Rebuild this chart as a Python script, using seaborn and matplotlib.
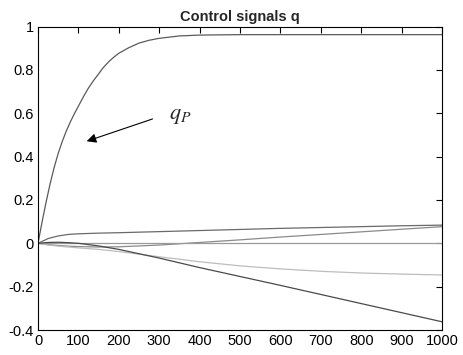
import numpy as np
import pandas as pd
import matplotlib
matplotlib.use("Agg")
import matplotlib.pyplot as plt
import seaborn as sns

# Time samples and control signal values
t_p = [0, 10, 20, 30, 40, 50, 60, 70, 80, 90, 100, 112, 125, 137, 150, 162, 175, 187, 200,
       225, 250, 275, 300, 350, 400, 500, 600, 800, 1000]
q_p = [0, 0.098, 0.19, 0.275, 0.35, 0.415, 0.47, 0.518, 0.56, 0.598, 0.633, 0.675, 0.717,
       0.75, 0.782, 0.812, 0.838, 0.858, 0.877, 0.903, 0.924, 0.937, 0.946, 0.957, 0.961,
       0.963, 0.963, 0.963, 0.963]

t = [0, 25, 50, 75, 100, 150, 200, 300, 400, 500, 600, 700, 800, 900, 1000]
q_a = [0, 0.022, 0.034, 0.041, 0.044, 0.047, 0.049, 0.054, 0.059, 0.064, 0.069, 0.073, 0.077, 0.081, 0.084]
q_b = [0, -0.006, -0.010, -0.013, -0.015, -0.017, -0.016, -0.008, 0.004, 0.016, 0.029, 0.041, 0.053, 0.065, 0.077]
q_c = [0] * len(t)
q_d = [0, -0.008, -0.013, -0.017, -0.021, -0.028, -0.038, -0.062, -0.085, -0.104, -0.118, -0.129, -0.137, -0.142, -0.146]
q_e = [0, 0.004, 0.005, 0.003, 0.0, -0.012, -0.028, -0.068, -0.112, -0.153, -0.194, -0.236, -0.278, -0.320, -0.362]

x_ticks = [0, 100, 200, 300, 400, 500, 600, 700, 800, 900, 1000]
y_ticks = [-0.4, -0.2, 0, 0.2, 0.4, 0.6, 0.8, 1]
y_labels = ["-0.4", "-0.2", "0", "0.2", "0.4", "0.6", "0.8", "1"]

sns.set_theme(style="white")
plt.rcParams["font.family"] = ["Liberation Sans", "DejaVu Sans"]
plt.rcParams["mathtext.fontset"] = "stix"

fig = plt.figure(figsize=(4.64, 3.55), dpi=100)
ax = fig.add_axes([0.0819, 0.0704, 0.8707, 0.8546])

df = pd.DataFrame({"t": t, "a": q_a, "b": q_b, "c": q_c, "d": q_d, "e": q_e})
dfp = pd.DataFrame({"t": t_p, "p": q_p})

sns.lineplot(data=dfp, x="t", y="p", ax=ax, color="#5a5a5a", linewidth=0.9)
styles = [("a", "#6a6a6a"), ("b", "#8a8a8a"), ("c", "#9a9a9a"), ("d", "#bdbdbd"), ("e", "#4a4a4a")]
for col, colr in styles:
    sns.lineplot(data=df, x="t", y=col, ax=ax, color=colr, linewidth=0.9)

ax.set_xlim(0, 1000)
ax.set_ylim(-0.4, 1)
ax.set_xticks(x_ticks)
ax.set_xticklabels([str(v) for v in x_ticks])
ax.set_yticks(y_ticks)
ax.set_yticklabels(y_labels)
ax.set_xlabel("")
ax.set_ylabel("")
ax.tick_params(direction="in", top=True, right=True, length=4, width=0.8,
               labelsize=10.5, colors="black", pad=3)
for s in ax.spines.values():
    s.set_color("black")
    s.set_linewidth(0.8)

ax.set_title("Control signals q", fontsize=10.5, fontweight="bold", pad=4)

ax.annotate("", xy=(114, 0.467), xytext=(290, 0.578),
            arrowprops=dict(arrowstyle="-|>", color="black", lw=0.8,
                            mutation_scale=14))
ax.text(325, 0.59, r"$q_P$", fontsize=16, va="center", ha="left")

fig.savefig("out.png", dpi=100)
